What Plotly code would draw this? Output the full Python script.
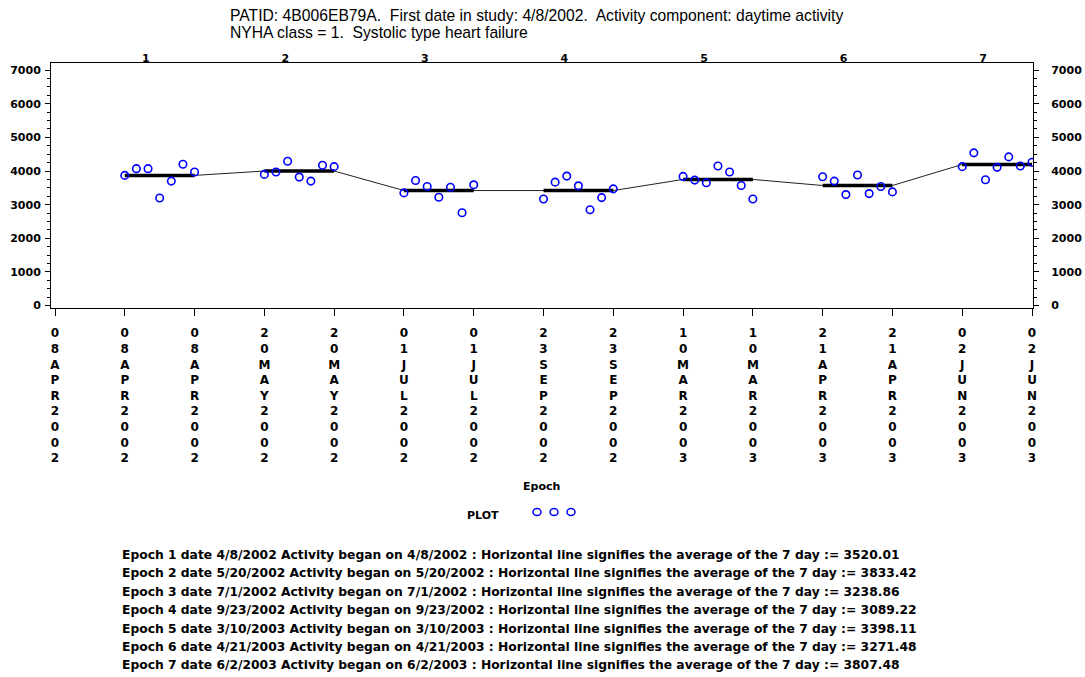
import plotly.graph_objects as go

# ---------------- data ----------------
tick_dates = ["08APR2002", "08APR2002", "08APR2002", "20MAY2002", "20MAY2002",
              "01JUL2002", "01JUL2002", "23SEP2002", "23SEP2002", "10MAR2003",
              "10MAR2003", "21APR2003", "21APR2003", "02JUN2003", "02JUN2003"]
epoch_labels = ["1", "2", "3", "4", "5", "6", "7"]
epoch1 = [3870, 4070, 4070, 3200, 3700, 4200, 3970]
epoch2 = [3900, 3970, 4290, 3820, 3700, 4170, 4130]
epoch3 = [3350, 3720, 3540, 3220, 3520, 2760, 3590]
epoch4 = [3170, 3670, 3850, 3560, 2850, 3210, 3470]
epoch5 = [3840, 3730, 3650, 4150, 3970, 3570, 3170]
epoch6 = [3830, 3700, 3300, 3880, 3330, 3540, 3380]
epoch7 = [4130, 4540, 3740, 4110, 4420, 4150, 4260]
avg_line = [3870, 4000, 3420, 3420, 3750, 3570, 4195]
footnotes = [
    "Epoch 1 date 4/8/2002 Activity began on 4/8/2002 : Horizontal line signifies the average of the 7 day := 3520.01",
    "Epoch 2 date 5/20/2002 Activity began on 5/20/2002 : Horizontal line signifies the average of the 7 day := 3833.42",
    "Epoch 3 date 7/1/2002 Activity began on 7/1/2002 : Horizontal line signifies the average of the 7 day := 3238.86",
    "Epoch 4 date 9/23/2002 Activity began on 9/23/2002 : Horizontal line signifies the average of the 7 day := 3089.22",
    "Epoch 5 date 3/10/2003 Activity began on 3/10/2003 : Horizontal line signifies the average of the 7 day := 3398.11",
    "Epoch 6 date 4/21/2003 Activity began on 4/21/2003 : Horizontal line signifies the average of the 7 day := 3271.48",
    "Epoch 7 date 6/2/2003 Activity began on 6/2/2003 : Horizontal line signifies the average of the 7 day := 3807.48",
]
title_lines = [
    "PATID: 4B006EB79A.  First date in study: 4/8/2002.  Activity component: daytime activity",
    "NYHA class = 1.  Systolic type heart failure",
]

epochs = [epoch1, epoch2, epoch3, epoch4, epoch5, epoch6, epoch7]

# ---------------- geometry helpers ----------------
W, H = 1085, 677
L, R, T, B = 51, 1033, 63, 308


def px(x):
    return (x - L) / (R - L)


def py(y):
    return (B - y) / (B - T)


BOLD = dict(family="DejaVu Sans", size=11, color="black", weight="bold")

fig = go.Figure()

# thin connecting line through the averages
lx, ly = [], []
for k, m in enumerate(avg_line):
    lx += [2 * k + 1, 2 * k + 2]
    ly += [m, m]
fig.add_trace(go.Scatter(x=lx, y=ly, mode="lines",
                         line=dict(color="#222222", width=1), hoverinfo="skip"))

# thick average segments
sx, sy = [], []
for k, m in enumerate(avg_line):
    sx += [2 * k + 1, 2 * k + 2, None]
    sy += [m, m, None]
fig.add_trace(go.Scatter(x=sx, y=sy, mode="lines",
                         line=dict(color="black", width=3.5), hoverinfo="skip"))

# daily points
for k, vals in enumerate(epochs):
    n = len(vals)
    xs = [2 * k + 1 + j / (n - 1) for j in range(n)]
    fig.add_trace(go.Scatter(x=xs, y=vals, mode="markers",
                             marker=dict(symbol="circle-open", size=7.5,
                                         color="#0000FF",
                                         line=dict(width=1.6, color="#0000FF"))))

# dummy trace for secondary axes
fig.add_trace(go.Scatter(x=[None], y=[None], xaxis="x2", yaxis="y2",
                         showlegend=False, hoverinfo="skip"))

xr = [-(55 - L) / 69.8, 14 + (R - 1032) / 69.8]
yr = [-70, 7210]

ticktext = ["<br>".join(list(d)) for d in tick_dates]

fig.update_layout(
    width=W, height=H,
    margin=dict(l=L, r=W - R, t=T, b=H - B, autoexpand=False),
    plot_bgcolor="white", paper_bgcolor="white",
    showlegend=False,
    xaxis=dict(range=xr, tickmode="array", tickvals=list(range(len(tick_dates))),
               ticktext=ticktext, tickangle=0, ticks="outside", ticklen=7,
               tickcolor="black", tickwidth=1, showline=True, linecolor="black",
               linewidth=1, showgrid=False, zeroline=False, automargin=False,
               tickfont=dict(family="DejaVu Sans", size=12, color="black", weight="bold"),
               ticklabelstandoff=7),
    xaxis2=dict(range=xr, overlaying="x", side="top", anchor="y",
                tickmode="array",
                tickvals=[2 * k + 1.3 for k in range(len(epoch_labels))],
                ticktext=epoch_labels, ticks="", showline=True, automargin=False,
                linecolor="black", linewidth=1, showgrid=False, zeroline=False,
                tickfont=BOLD, ticklabelstandoff=-4),
    yaxis=dict(range=yr, tickmode="array", tickvals=list(range(0, 7001, 1000)),
               ticks="outside", ticklen=5, tickcolor="black", showline=True,
               linecolor="black", linewidth=1, showgrid=False, zeroline=False,
               tickfont=BOLD, ticklabelstandoff=2, automargin=False,
               minor=dict(tickmode="linear", tick0=0, dtick=250, ticks="outside",
                          ticklen=3, tickcolor="black", showgrid=False)),
    yaxis2=dict(range=yr, overlaying="y", side="right", anchor="x",
                tickmode="array", tickvals=list(range(0, 7001, 1000)),
                ticks="outside", ticklen=5, tickcolor="black", showline=True,
                linecolor="black", linewidth=1, showgrid=False, zeroline=False,
                tickfont=BOLD, ticklabelstandoff=10, automargin=False,
                minor=dict(tickmode="linear", tick0=0, dtick=250, ticks="outside",
                           ticklen=3, tickcolor="black", showgrid=False)),
)

annotations = []
for i, (t, yy) in enumerate(zip(title_lines, [15, 32])):
    annotations.append(dict(text=t, xref="paper", yref="paper", x=px(228), y=py(yy),
                            xanchor="left", yanchor="middle", showarrow=False,
                            font=dict(family="Liberation Sans", size=15.7, color="black")))
annotations.append(dict(text="Epoch", xref="paper", yref="paper", x=px(541), y=py(487),
                        xanchor="center", yanchor="middle", showarrow=False,
                        font=BOLD))
annotations.append(dict(text="PLOT", xref="paper", yref="paper", x=px(483), y=py(515),
                        xanchor="center", yanchor="middle", showarrow=False,
                        font=BOLD))
for t, yy in zip(footnotes, [555, 573, 592, 610, 629, 647, 665]):
    annotations.append(dict(text=t, xref="paper", yref="paper", x=px(120), y=py(yy),
                            xanchor="left", yanchor="middle", showarrow=False,
                            font=dict(family="DejaVu Sans", size=12.3, color="black",
                                      weight="bold")))
fig.update_layout(annotations=annotations)

shapes = []
for cx in [537, 554, 571]:
    shapes.append(dict(type="circle", xref="paper", yref="paper",
                       xsizemode="pixel", ysizemode="pixel",
                       xanchor=px(cx), yanchor=py(512),
                       x0=-4, x1=4, y0=-3.5, y1=3.5,
                       line=dict(color="#0000FF", width=1.5)))
fig.update_layout(shapes=shapes)

fig.write_html("out.html")
